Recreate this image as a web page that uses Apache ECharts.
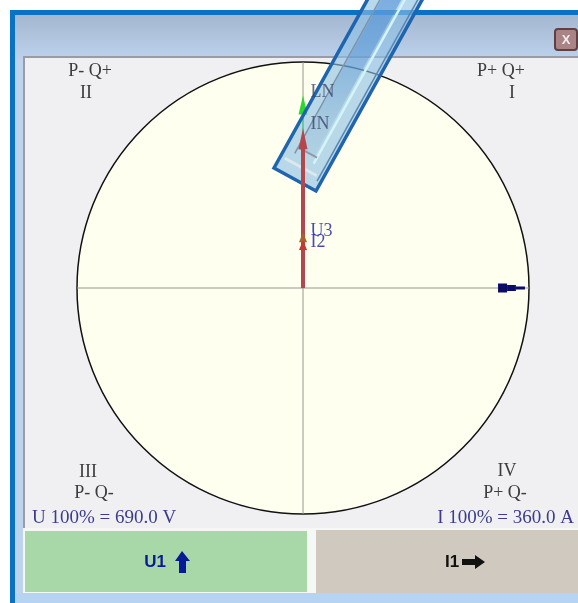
<!DOCTYPE html>
<html>
<head>
<meta charset="utf-8">
<style>
  html, body { margin: 0; padding: 0; background: #fff; }
  #chart { width: 578px; height: 603px; filter: blur(0.5px); }
</style>
</head>
<body>
<div id="chart"></div>
<script src="https://cdn.jsdelivr.net/npm/echarts@6/dist/echarts.min.js"></script>
<script>
// phasors, magnitude in % of full scale, angle in degrees
var phasorNames = ['LN', 'IN', 'U3', 'I2'];
var phasorMagnitudes = [81, 66, 22.5, 19];
var phasorAngles = [90, 90, 90, 90];

// I1 phasor at 0 degrees, only its outer end is visible, three stepped widths
var i1Angle = 0;
var i1Starts = [86.3, 90.3, 94.2];
var i1Ends = [90.3, 94.2, 98.2];

var crossAngles = [0, 90, 180, 270];

var quadrantLabels = ['P- Q+', 'II', 'P+ Q+', 'I', 'III', 'P- Q-', 'IV', 'P+ Q-'];
var scaleLabels = ['U 100% = 690.0 V', 'I 100% = 360.0 A'];
var buttonLabels = ['U1', 'I1'];

var phasorColors = ['#2fd62f', '#b4464e', '#a5652c', '#c23a30'];
var phasorWidths = [2, 4, 0, 0];
var phasorLayers = [5, 105, 107, 108]; // the red one shows on top of the pen
var symbolSizes = [[9, 19], [9, 21], [8, 10], [8, 10]];
var labelOffsets = [[2, -13], [2, -15], [2, -6], [2, -3]];
var labelColors = ['#3c4468', '#3c4468', '#1a1aa8', '#1a1aa8'];

var chart = echarts.init(document.getElementById('chart'));

var series = [];

// gray cross through the dial
crossAngles.forEach(function (angle) {
  series.push({
    type: 'line',
    coordinateSystem: 'polar',
    animation: false,
    silent: true,
    symbol: 'none',
    z: 3,
    lineStyle: { color: '#96968c', width: 1 },
    data: [[0, angle], [100, angle]]
  });
});

phasorNames.forEach(function (name, i) {
  series.push({
    type: 'line',
    coordinateSystem: 'polar',
    animation: false,
    silent: true,
    showAllSymbol: true,
    z: phasorLayers[i],
    lineStyle: { color: phasorColors[i], width: phasorWidths[i] },
    itemStyle: { color: phasorColors[i] },
    data: [
      { value: [0, phasorAngles[i]], symbol: 'none' },
      { value: [phasorMagnitudes[i], phasorAngles[i]], symbol: 'triangle', symbolSize: symbolSizes[i] }
    ]
  });
  // labels sit above the pen, so they get a series of their own
  series.push({
    type: 'scatter',
    coordinateSystem: 'polar',
    animation: false,
    silent: true,
    z: 110,
    symbolSize: 1,
    itemStyle: { color: 'transparent' },
    label: {
      show: true,
      position: 'right',
      offset: labelOffsets[i],
      formatter: name,
      color: labelColors[i],
      fontFamily: 'Liberation Serif',
      fontSize: 18
    },
    data: [[phasorMagnitudes[i], phasorAngles[i]]]
  });
});

var i1Widths = [9, 6, 3];
i1Starts.forEach(function (start, i) {
  series.push({
    type: 'line',
    coordinateSystem: 'polar',
    animation: false,
    silent: true,
    symbol: 'none',
    z: 10,
    lineStyle: { color: '#0b0b68', width: i1Widths[i], cap: 'butt' },
    data: [[start, i1Angle], [i1Ends[i], i1Angle]]
  });
});

function serifText(text, x, y, align, color, size) {
  return {
    type: 'text',
    z: 20,
    style: {
      text: text,
      x: x,
      y: y,
      align: align,
      verticalAlign: 'middle',
      fill: color || '#3c3c3c',
      font: (size || 18) + 'px "Liberation Serif"'
    }
  };
}

function rect(x, y, w, h, fill, z) {
  return { type: 'rect', z: z === undefined ? -10 : z, silent: true,
    shape: { x: x, y: y, width: w, height: h }, style: { fill: fill } };
}

// pen overlay, u goes across the pen and v along it
function pen(u, v) {
  return [274 + 42 * u + 111 * v, 168 + 23 * u - 200 * v];
}
function penPoly(fill, stroke, width, corners) {
  return {
    type: 'polygon', z: 100, silent: true,
    shape: { points: corners.map(function (c) { return pen(c[0], c[1]); }) },
    style: { fill: fill, stroke: stroke, lineWidth: width }
  };
}
function penLine(stroke, width, corners) {
  return {
    type: 'polyline', z: 101, silent: true,
    shape: { points: corners.map(function (c) { return pen(c[0], c[1]); }) },
    style: { stroke: stroke, lineWidth: width, fill: null }
  };
}

var graphics = [
  rect(10, 10, 568, 593, '#0a72c4'),
  {
    type: 'rect', z: -10, silent: true,
    shape: { x: 15, y: 15, width: 563, height: 588 },
    style: {
      fill: new echarts.graphic.LinearGradient(0, 0, 0, 0.08, [
        { offset: 0, color: '#a4b7d0' },
        { offset: 1, color: '#bed3ee' }
      ])
    }
  },
  rect(23, 56, 555, 473, '#9b9ba6'),
  rect(25, 58, 553, 471, '#f0f0f3'),
  rect(23, 528, 555, 65, '#f6f8f6'),
  rect(25, 531, 282, 61, '#a9d8a8'),
  rect(316, 530, 262, 63, '#cfc9c0'),
  rect(15, 593, 563, 10, '#b6d4f2'),
  {
    type: 'rect', z: -5, silent: true,
    shape: { x: 555, y: 29, width: 22, height: 21, r: 3 },
    style: { fill: '#a88486', stroke: '#5f3e44', lineWidth: 2 }
  },
  {
    type: 'text', z: 20,
    style: { text: 'X', x: 566, y: 40, align: 'center', verticalAlign: 'middle',
      fill: '#f4ecec', font: 'bold 13px "Liberation Sans"' }
  },

  serifText(quadrantLabels[0], 90, 71, 'center'),
  serifText(quadrantLabels[1], 86, 93, 'center'),
  serifText(quadrantLabels[2], 501, 71, 'center'),
  serifText(quadrantLabels[3], 512, 93, 'center'),
  serifText(quadrantLabels[4], 88, 472, 'center'),
  serifText(quadrantLabels[5], 94, 493, 'center'),
  serifText(quadrantLabels[6], 507, 471, 'center'),
  serifText(quadrantLabels[7], 505, 493, 'center'),
  serifText(scaleLabels[0], 32, 518, 'left', '#3c3c8c', 19),
  serifText(scaleLabels[1], 574, 518, 'right', '#3c3c8c', 19),

  {
    type: 'text', z: 20,
    style: { text: buttonLabels[0], x: 155, y: 562, align: 'center', verticalAlign: 'middle',
      fill: '#0a1a96', font: 'bold 17px "Liberation Sans"' }
  },
  {
    type: 'polygon', z: 20, silent: true,
    shape: { points: [[182, 551], [190, 561], [186, 561], [186, 573], [179, 573], [179, 561], [175, 561]] },
    style: { fill: '#0a1a96' }
  },
  {
    type: 'text', z: 20,
    style: { text: buttonLabels[1], x: 452, y: 562, align: 'center', verticalAlign: 'middle',
      fill: '#111', font: 'bold 17px "Liberation Sans"' }
  },
  {
    type: 'polygon', z: 20, silent: true,
    shape: { points: [[485, 562], [475, 555], [475, 559], [462, 559], [462, 565], [475, 565], [475, 569]] },
    style: { fill: '#111' }
  },

  // pen on top of everything, the dial shows through it
  penPoly('rgba(140,192,228,0.62)', '#1f64ae', 3.5, [[0, 0], [1, 0], [1, 1], [0, 1]]),
  penPoly(new echarts.graphic.LinearGradient(0, 0, 0, 1, [
    { offset: 0, color: 'rgba(60,130,215,0.55)' },
    { offset: 0.55, color: 'rgba(70,135,205,0.35)' },
    { offset: 1, color: 'rgba(120,160,190,0.12)' }
  ]), null, 0, [[0.25, 0.13], [0.62, 0.13], [0.62, 1], [0.25, 1]]),
  penLine('#7c93ac', 1.5, [[0.23, 0.1], [0.23, 1]]),
  penLine('#d4f4fb', 2.5, [[0.68, 0.1], [0.68, 1]]),
  penLine('#dbe9ec', 3, [[0.1, 0.06], [0.86, 0.06]]),
  penLine('#8f9aa6', 2, [[0.23, 0.13], [0.68, 0.13]]),
  penLine('#5a86b4', 1.5, [[0.92, 0.04], [0.92, 1]])
];

var option = {
  backgroundColor: '#ffffff',
  animation: false,
  polar: { center: [303, 288], radius: 226 },
  radiusAxis: {
    type: 'value',
    min: 0,
    max: 100,
    axisLine: { show: false },
    axisTick: { show: false },
    axisLabel: { show: false },
    splitLine: { show: false }
  },
  angleAxis: {
    type: 'value',
    min: 0,
    max: 360,
    interval: 90,
    startAngle: 0,
    clockwise: false,
    axisLine: { show: true, lineStyle: { color: '#111', width: 1.5 } },
    axisTick: { show: false },
    axisLabel: { show: false },
    splitLine: { show: false },
    splitArea: { show: true, areaStyle: { color: ['#fffff0'] } }
  },
  graphic: { elements: graphics },
  series: series
};

chart.setOption(option);
</script>
</body>
</html>
